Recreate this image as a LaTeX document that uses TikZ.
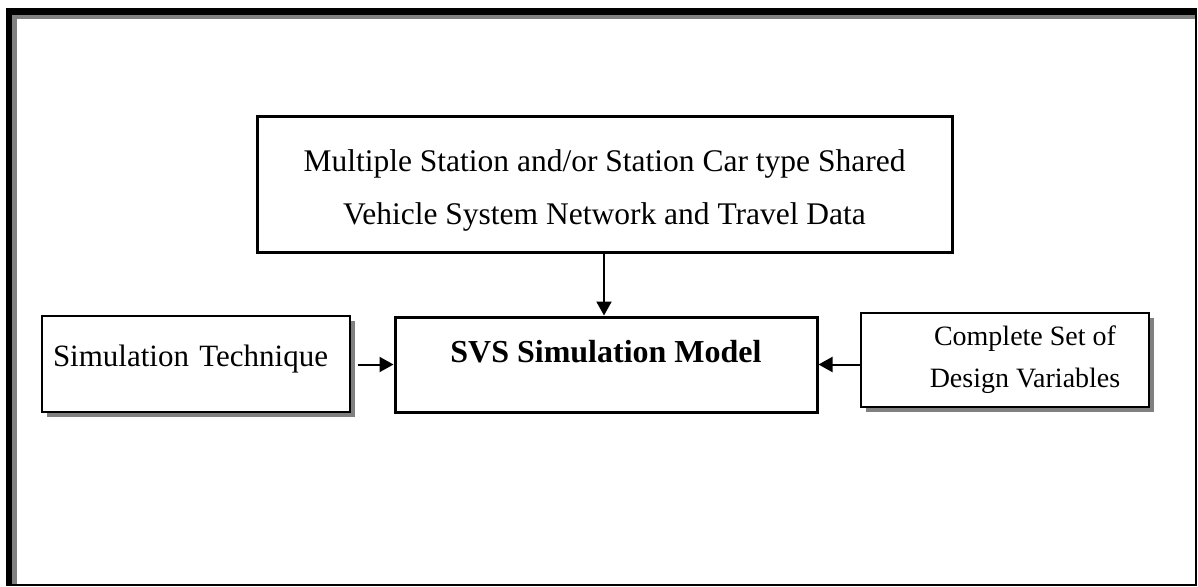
\documentclass[tikz,border=0pt]{standalone}
\usepackage{fontspec}
\setmainfont{Liberation Serif}
\usetikzlibrary{arrows.meta,shadows}
\begin{document}
\begin{tikzpicture}[x=1pt,y=-1pt,
  thickbox/.style={draw=black, line width=3pt, fill=white, inner sep=0pt},
  thinbox/.style={draw=black, line width=1.2pt, fill=white, inner sep=0pt,
    drop shadow={shadow xshift=4.5pt, shadow yshift=-4.5pt, fill=black!50, opacity=1}},
  conn/.style={line width=2pt, -{Triangle[length=14pt,width=15pt]}}]
\useasboundingbox (0,0) rectangle (1198,586);
% outer frame
\fill[black] (6,8) rectangle (12,585.5);
\fill[black] (6,8) rectangle (1197,15);
\fill[black!50] (12,15) rectangle (17,585.5);
\fill[black!50] (12,15) rectangle (1195,19.5);
\draw[line width=2pt] (1196,8) -- (1196,584.5) -- (6,584.5);
% boxes
\node[thickbox, minimum width=695pt, minimum height=136pt, align=center,
  font=\fontsize{31.5}{53}\selectfont] (top) at (604.5,184)
  {\rule{0pt}{34pt}Multiple Station and/or Station Car type Shared\\Vehicle System Network and Travel Data};
\node[thickbox, minimum width=422pt, anchor=base, text height=45pt, text depth=50pt,
  font=\fontsize{32}{38}\selectfont\bfseries] (mid) at (606,362)
  {SVS Simulation Model};
\node[thinbox, anchor=base, text width=286pt, inner xsep=11pt, align=left,
  text height=50pt, text depth=46pt, font=\fontsize{31}{36}\selectfont] (left) at (196,366)
  {Simulation Technique};
\node[thinbox, minimum width=288pt, minimum height=94pt, align=center,
  font=\fontsize{28}{42}\selectfont] (right) at (1005,360)
  {\hspace*{40pt}Complete Set of\\\hspace*{40pt}Design Variables};
% connectors
\draw[conn] (top.south -| 604,0) -- (mid.north -| 604,0);
\draw[conn, shorten <=7pt] (left.east |- mid.west) -- (mid.west);
\draw[conn] (right.west |- mid.east) -- (mid.east);
\end{tikzpicture}
\end{document}
